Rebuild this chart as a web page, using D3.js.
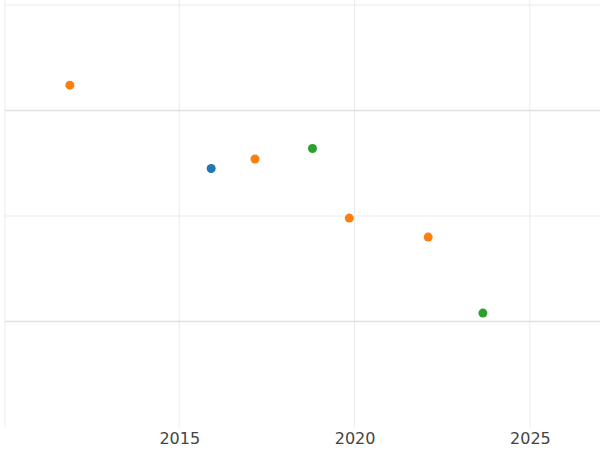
<!DOCTYPE html>
<html><head><meta charset="utf-8">
<script src="https://cdn.jsdelivr.net/npm/d3@7"></script>
<style>body{margin:0;background:#fff}</style></head>
<body><svg id="c" width="600" height="450"></svg>
<script>
const years = [2011.88, 2015.91, 2017.16, 2018.8, 2019.85, 2022.1, 2023.66];
const values = [3.24, 2.45, 2.54, 2.64, 1.98, 1.80, 1.08];
const groups = ["b", "a", "b", "c", "b", "b", "c"];
const xTicks = [2015, 2020, 2025];
const yGrid = [1, 2, 3, 4];
const color = d3.scaleOrdinal().domain(["a","b","c"]).range(["#1f77b4","#ff7f0e","#2ca02c"]);
const svg = d3.select("#c");
const x = d3.scaleLinear().domain([2010.03, 2027.0]).range([5, 600]);
const y = d3.scaleLinear().domain([0, 4]).range([427, 5]);
svg.selectAll(".vg").data([2010.03, ...xTicks]).enter().append("line")
  .attr("x1", d=>x(d)).attr("x2", d=>x(d)).attr("y1", 0).attr("y2", 427)
  .attr("stroke", "#ebebeb").attr("stroke-width", 1);
svg.selectAll(".hg").data(yGrid).enter().append("line")
  .attr("x1", 5).attr("x2", 600).attr("y1", d=>y(d)).attr("y2", d=>y(d))
  .attr("stroke", (d)=> d%2 ? "#e0e0e0" : "#ebebeb").attr("stroke-width", d=> d%2 ? 1.5 : 1);
const ax = svg.append("g").attr("transform", "translate(0,427)")
  .call(d3.axisBottom(x).tickValues(xTicks).tickFormat(d3.format("d")).tickSize(0).tickPadding(6));
ax.select(".domain").remove();
ax.selectAll("text").attr("fill", "#444").style("font-family", "DejaVu Sans").style("font-size", "16px");
svg.selectAll("circle").data(years).enter().append("circle")
  .attr("cx", d=>x(d)).attr("cy", (d,i)=>y(values[i])).attr("r", 4.5)
  .attr("fill", (d,i)=>color(groups[i]));
</script></body></html>
